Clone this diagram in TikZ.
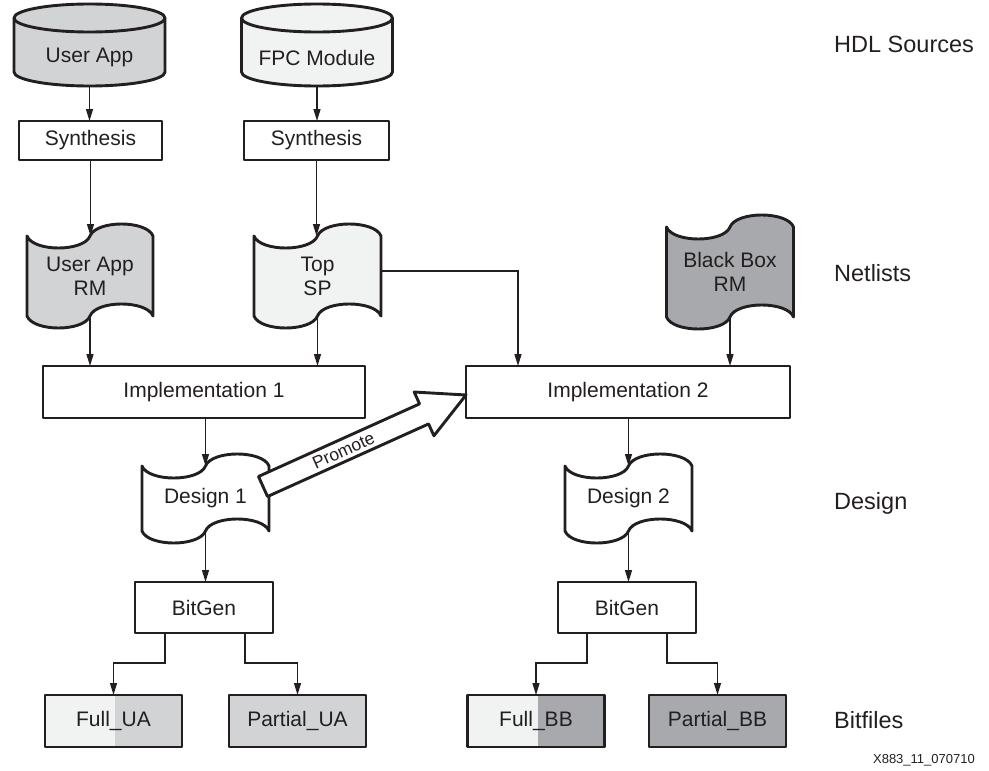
\documentclass[tikz,border=0pt]{standalone}
\usepackage{fontspec}
\setmainfont{Liberation Sans}
\usetikzlibrary{arrows.meta,calc}

\definecolor{inkBlack}{HTML}{231F20}
\definecolor{srcLight}{HTML}{F1F2F2}
\definecolor{srcMid}{HTML}{D1D3D4}
\definecolor{srcDark}{HTML}{A7A9AC}

\tikzset{
  shapeline/.style={draw=inkBlack, line width=2.9pt, line join=round},
  procbox/.style={shapeline, fill=white, inner sep=0pt, outer sep=0pt, text=inkBlack,
    font=\fontsize{21}{24}\selectfont},
  bitbox/.style={procbox, minimum width=137pt, minimum height=52pt},
  halfshade/.style={path picture={\fill[#1] (path picture bounding box.south west)
    rectangle ([xshift=1.5pt]path picture bounding box.north);}},
  filetext/.style={inner sep=0pt, outer sep=0pt, text=inkBlack, align=center,
    font=\fontsize{21}{24}\selectfont},
  flow/.style={draw=inkBlack, line width=1.3pt, -{Triangle[length=12pt,width=7pt]}},
  sidelabel/.style={anchor=base west, inner sep=0pt, text=inkBlack,
    font=\fontsize{23.5}{28}\selectfont},
}

% cylinder: name, x, fill, text
\newcommand{\hdlcyl}[4]{%
  \begin{scope}[shift={(#2,45)}]
    \filldraw[shapeline, fill=#3] (-75.5,-27) -- (-75.5,27)
      .. controls (-75.5,34.7) and (-41.7,41) .. (0,41)
      .. controls (41.7,41) and (75.5,34.7) .. (75.5,27) -- (75.5,-27)
      .. controls (75.5,-34.7) and (41.7,-41) .. (0,-41)
      .. controls (-41.7,-41) and (-75.5,-34.7) .. (-75.5,-27) -- cycle;
    \draw[shapeline] (-75.5,-27) .. controls (-75.5,-19.3) and (-41.7,-13) .. (0,-13)
      .. controls (41.7,-13) and (75.5,-19.3) .. (75.5,-27);
  \end{scope}
  \node[filetext, minimum width=151pt, minimum height=57pt] (#1) at (#2,57.5) {#4};
}

% wavy file: name, x, y, width, height, fill, text
\newcommand{\netfile}[7]{%
  \filldraw[shapeline, fill=#6, shift={(#2,#3)}]
    ({-#4/2},{-#5/2}) .. controls ({-0.45*#4},{-#5/2+16}) and ({-0.05*#4},{-#5/2+16}) .. (0,{-#5/2})
    .. controls ({0.05*#4},{-#5/2-16}) and ({0.45*#4},{-#5/2-16}) .. ({#4/2},{-#5/2})
    -- ({#4/2},{#5/2})
    .. controls ({0.45*#4},{#5/2-16}) and ({0.05*#4},{#5/2-16}) .. (0,{#5/2})
    .. controls ({-0.05*#4},{#5/2+16}) and ({-0.45*#4},{#5/2+16}) .. ({-#4/2},{#5/2})
    -- cycle;
  \node[filetext, minimum width=#4, minimum height=#5] (#1) at (#2,#3) {#7};
}

\begin{document}
\begin{tikzpicture}[x=1pt,y=-1pt]
\useasboundingbox (0,0) rectangle (989,771);

\hdlcyl{usrApp}{89.5}{srcMid}{User App}
\hdlcyl{fpcMod}{317}{srcLight}{FPC Module}

\node[procbox, minimum width=143pt, minimum height=39pt] (synA) at (90.5,140.5) {Synthesis};
\node[procbox, minimum width=145pt, minimum height=39pt] (synB) at (316.5,140.5) {Synthesis};

\netfile{uaRM}{90}{276}{126}{80}{srcMid}{User App\\RM}
\netfile{topSP}{317.5}{276}{127}{80}{srcLight}{Top\\SP}
\netfile{bbRM}{730}{272}{127}{90}{srcDark}{Black Box\\RM}

\node[procbox, minimum width=322pt, minimum height=52pt] (implA) at (204,392) {Implementation 1};
\node[procbox, minimum width=324pt, minimum height=52pt] (implB) at (628,392) {Implementation 2};

\netfile{dsgA}{205.5}{498.5}{127}{65}{white}{Design 1}
\netfile{dsgB}{628.5}{498.5}{127}{65}{white}{Design 2}

\node[procbox, minimum width=138pt, minimum height=51pt] (bgA) at (204,607.5) {BitGen};
\node[procbox, minimum width=138pt, minimum height=51pt] (bgB) at (627,607.5) {BitGen};

\node[bitbox, fill=srcMid, halfshade=srcLight] (fullUA) at (113.5,721) {Full\_UA};
\node[bitbox, fill=srcMid] (partUA) at (297.5,721) {Partial\_UA};
\node[bitbox, fill=srcDark, halfshade=srcLight] (fullBB) at (536,721) {Full\_BB};
\node[bitbox, fill=srcDark] (partBB) at (717.5,721) {Partial\_BB};

\draw[flow] (usrApp.south) -- (usrApp.south |- synA.north);
\draw[flow] (fpcMod.south) -- (fpcMod.south |- synB.north);
\draw[flow] (synA.south) -- (synA.south |- uaRM.north);
\draw[flow] (synB.south) -- (synB.south |- topSP.north);
\draw[flow] (uaRM.south) -- (uaRM.south |- implA.north);
\draw[flow] (topSP.south) -- (topSP.south |- implA.north);
\draw[flow] ([yshift=5pt]topSP.east) -| ([xshift=-110pt]implB.north);
\draw[flow] (bbRM.south) -- (bbRM.south |- implB.north);
\draw[flow] (dsgA.north |- implA.south) -- (dsgA.north);
\draw[flow] (dsgB.north |- implB.south) -- (dsgB.north);
\draw[flow] (dsgA.south) -- (dsgA.south |- bgA.north);
\draw[flow] (dsgB.south) -- (dsgB.south |- bgB.north);
\draw[flow] ([xshift=-39pt]bgA.south) -- ++(0,30) -| (fullUA.north);
\draw[flow] ([xshift=41pt]bgA.south) -- ++(0,30) -| (partUA.north);
\draw[flow] ([xshift=-40pt]bgB.south) -- ++(0,30) -| (fullBB.north);
\draw[flow] ([xshift=40pt]bgB.south) -- ++(0,30) -| (partBB.north);

% promote arrow
\coordinate (promTail) at ($(dsgA.east)+(-6,-12)$);
\coordinate (promTip) at ([yshift=-3pt]implB.west);
\coordinate (promNeck) at ($(promTip)!46pt!(promTail)$);
\filldraw[shapeline, fill=white] ($(promTail)!11pt!90:(promTip)$)
  -- ($(promNeck)!11pt!90:(promTip)$) -- ($(promNeck)!24pt!90:(promTip)$)
  -- (promTip) -- ($(promNeck)!24pt!-90:(promTip)$)
  -- ($(promNeck)!11pt!-90:(promTip)$) -- ($(promTail)!11pt!-90:(promTip)$) -- cycle;
\path (promTail) -- (promNeck) node[midway, sloped, inner sep=0pt, text=inkBlack,
  font=\fontsize{17.5}{20}\selectfont] (promLbl) {Promote};

\node[sidelabel] (lblHdl) at (834,52) {HDL Sources};
\node[sidelabel] (lblNet) at (834,281) {Netlists};
\node[sidelabel] (lblDsg) at (834,509) {Design};
\node[sidelabel] (lblBit) at (834,728) {Bitfiles};
\node[anchor=base east, inner sep=0pt, text=inkBlack, font=\fontsize{13}{15}\selectfont]
  (figId) at (975,763) {X883\_11\_070710};
\end{tikzpicture}
\end{document}
